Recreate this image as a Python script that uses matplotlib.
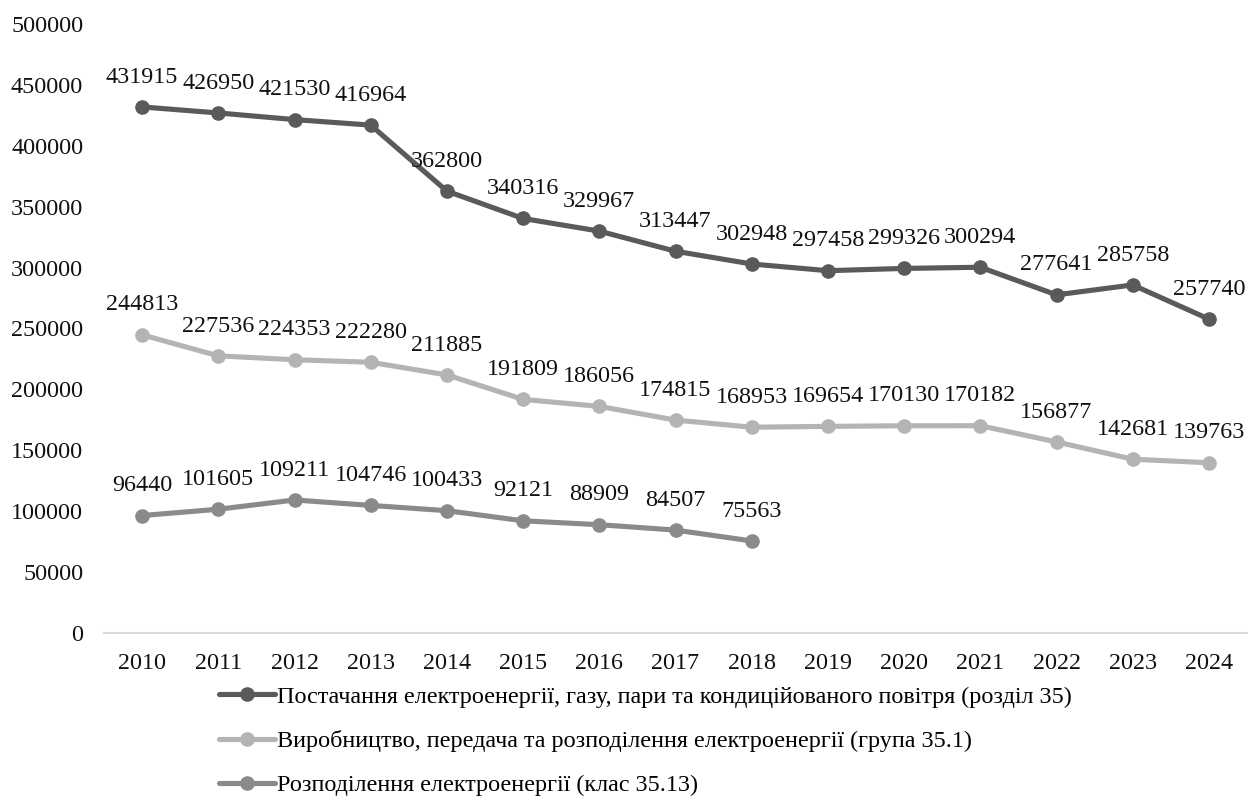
import numpy as np
import matplotlib.pyplot as plt

plt.rcParams['font.family'] = ['Liberation Serif', 'DejaVu Serif']

years = [str(y) for y in range(2010, 2025)]

supply_35 = [431915, 426950, 421530, 416964, 362800, 340316, 329967, 313447,
             302948, 297458, 299326, 300294, 277641, 285758, 257740]
production_351 = [244813, 227536, 224353, 222280, 211885, 191809, 186056, 174815,
                  168953, 169654, 170130, 170182, 156877, 142681, 139763]
distribution_3513 = [96440, 101605, 109211, 104746, 100433, 92121, 88909, 84507, 75563]

labels = [
    "Постачання електроенергії, газу, пари та кондиційованого повітря (розділ 35)",
    "Виробництво, передача та розподілення електроенергії (група 35.1)",
    "Розподілення електроенергії (клас 35.13)",
]
colors = ["#5a5a5a", "#b4b4b4", "#8a8a8a"]

fig = plt.figure(figsize=(12.48, 7.96), dpi=100)
ax = fig.add_axes([104 / 1248, 1 - 633 / 796, (1247 - 104) / 1248, (633 - 24) / 796])

fs = 17.4
series = [supply_35, production_351, distribution_3513]
handles = []
for vals, col, lab in zip(series, colors, labels):
    x = np.arange(len(vals))
    h, = ax.plot(x, vals, color=col, lw=3.7, marker='o', ms=9.5,
                 solid_capstyle='round', label=lab)
    handles.append(h)
    # value above each point
    for xi, v in zip(x, vals):
        ax.annotate(str(v), (xi, v), xytext=(0, 21.5), textcoords='offset points',
                    ha='center', va='center', fontsize=fs, color='#111111')

ax.set_xlim(-0.5, 14.5)
ax.set_ylim(0, 500000)
ax.set_yticks(np.arange(0, 500001, 50000))
ax.set_yticklabels([str(v) for v in range(0, 500001, 50000)])
ax.set_xticks(np.arange(len(years)))
ax.set_xticklabels(years)
ax.tick_params(axis='both', length=0, labelsize=fs, colors='#111111')
ax.tick_params(axis='y', pad=15)
ax.tick_params(axis='x', pad=14.5)

for side in ['top', 'right', 'left']:
    ax.spines[side].set_visible(False)
ax.spines['bottom'].set_color('#d9d9d9')
ax.spines['bottom'].set_linewidth(1.5)

fig.legend(handles=handles, loc='upper left', bbox_to_anchor=(219 / 1248, 1 - 686 / 796),
           frameon=False, fontsize=fs, handlelength=2.3, handletextpad=0.1,
           labelspacing=0.92, borderpad=0, borderaxespad=0)

fig.savefig('out.png', dpi=100)
